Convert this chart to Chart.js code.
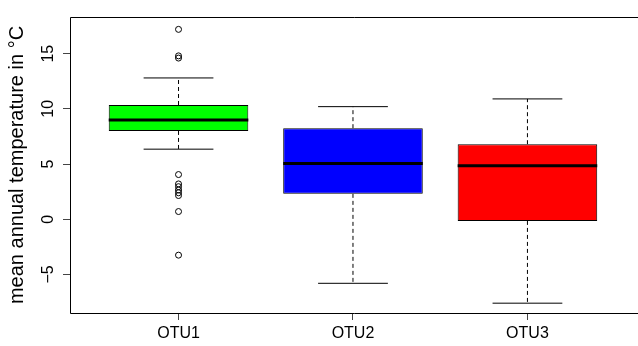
<!DOCTYPE html>
<html>
<head>
<meta charset="utf-8">
<script src="https://cdn.jsdelivr.net/npm/chart.js@4.4.1/dist/chart.umd.min.js"></script>
<style>
  html, body { margin: 0; padding: 0; background: #fff; overflow: hidden; }
  #wrap { width: 638px; height: 346px; }
</style>
</head>
<body>
<div id="wrap"><canvas id="grafico" width="638" height="346"></canvas></div>
<script>
// dados
const categorias = ["OTU1", "OTU2", "OTU3"];
const q1 = [8.0, 2.3, -0.15];
const medianas = [9.0, 5.05, 4.85];
const q3 = [10.35, 8.25, 6.8];
const bigodeMin = [6.35, -5.8, -7.6];
const bigodeMax = [12.8, 10.2, 10.9];
const outliersOTU1 = [17.2, 14.8, 14.6, 4.05, 3.2, 2.95, 2.65, 2.4, 2.15, 0.7, -3.25];
const coresCaixa = ["#00ff00", "#0000ff", "#ff0000"];
const yTicks = [-5, 0, 5, 10, 15];

const FONTE = "'Liberation Sans', Arial, Helvetica, sans-serif";

// segmentos (null separa as linhas)
function segmentos(lista) {
  const pts = [];
  lista.forEach(s => {
    pts.push({ x: s[0], y: s[1] }, { x: s[2], y: s[3] }, { x: s[2], y: null });
  });
  return pts;
}

const linhasBigode = segmentos(categorias.flatMap((c, i) => [
  [i + 1, q3[i], i + 1, bigodeMax[i]],
  [i + 1, q1[i], i + 1, bigodeMin[i]]
]));
const linhasCap = segmentos(categorias.flatMap((c, i) => [
  [i + 0.8, bigodeMax[i], i + 1.2, bigodeMax[i]],
  [i + 0.8, bigodeMin[i], i + 1.2, bigodeMin[i]]
]));
const linhasMediana = segmentos(categorias.map((c, i) => [i + 0.6, medianas[i], i + 1.4, medianas[i]]));

// moldura (o lado direito fica fora da imagem) + rótulos do eixo y girados
const pluginMoldura = {
  id: "moldura",
  afterDraw(chart) {
    const { ctx, chartArea: a, scales } = chart;
    const l = Math.round(a.left) + 0.5, t = Math.round(a.top) + 0.5, b = Math.round(a.bottom) + 0.5;
    ctx.save();
    ctx.strokeStyle = "#000";
    ctx.lineWidth = 1;
    ctx.beginPath();
    ctx.moveTo(chart.width, t);
    ctx.lineTo(l, t);
    ctx.lineTo(l, b);
    ctx.lineTo(chart.width, b);
    ctx.stroke();

    ctx.fillStyle = "#000";
    ctx.font = "16px " + FONTE;
    ctx.textAlign = "center";
    ctx.textBaseline = "middle";
    yTicks.forEach(v => {
      const py = scales.y.getPixelForValue(v);
      ctx.save();
      ctx.translate(49, py);
      ctx.rotate(-Math.PI / 2);
      ctx.fillText(v < 0 ? "\u2212" + Math.abs(v) : String(v), 0, 0);
      ctx.restore();
    });
    ctx.restore();
  }
};

new Chart(document.getElementById("grafico"), {
  type: "bar",
  data: {
    datasets: [
      {
        type: "line",
        data: linhasMediana,
        borderColor: "#000",
        borderWidth: 3,
        pointRadius: 0,
        spanGaps: false,
        order: 0
      },
      {
        type: "scatter",
        data: outliersOTU1.map(v => ({ x: 1, y: v })),
        pointRadius: 3,
        borderColor: "#000",
        backgroundColor: "rgba(0,0,0,0)",
        borderWidth: 1,
        order: 1
      },
      {
        type: "line",
        data: linhasCap,
        borderColor: "#000",
        borderWidth: 1,
        pointRadius: 0,
        spanGaps: false,
        order: 3
      },
      {
        type: "line",
        data: linhasBigode,
        borderColor: "#000",
        borderWidth: 1,
        borderDash: [4, 3],
        pointRadius: 0,
        spanGaps: false,
        order: 4
      },
      {
        type: "bar",
        data: categorias.map((c, i) => ({ x: i + 1, y: [q1[i], q3[i]] })),
        backgroundColor: coresCaixa,
        borderColor: "#000",
        borderWidth: 1,
        borderSkipped: false,
        barPercentage: 1,
        categoryPercentage: 0.8,
        order: 2
      }
    ]
  },
  options: {
    responsive: false,
    animation: false,
    layout: { padding: { top: 17, right: 0, left: 0, bottom: 0 } },
    plugins: { legend: { display: false }, tooltip: { enabled: false } },
    scales: {
      x: {
        type: "linear",
        min: 0.378,
        max: 3.605,
        offset: false,
        afterFit: s => { s.height = 33; },
        afterBuildTicks: s => { s.ticks = categorias.map((c, i) => ({ value: i + 1 })); },
        grid: { offset: false, drawOnChartArea: false, drawTicks: true, tickLength: 7, tickColor: "#444" },
        border: { display: false },
        ticks: {
          callback: v => categorias[v - 1] || "",
          color: "#000",
          font: { family: FONTE, size: 16 },
          padding: 4,
          maxRotation: 0
        }
      },
      y: {
        type: "linear",
        min: -8.49,
        max: 18.32,
        afterFit: s => { s.width = 70; },
        afterBuildTicks: s => { s.ticks = yTicks.map(v => ({ value: v })); },
        grid: { drawOnChartArea: false, drawTicks: true, tickLength: 7, tickColor: "#444" },
        border: { display: false },
        ticks: { display: false },
        title: {
          display: true,
          text: "mean annual temperature in °C",
          color: "#000",
          font: { family: FONTE, size: 20 },
          padding: { top: 5, bottom: 0 }
        }
      }
    }
  },
  plugins: [pluginMoldura]
});
</script>
</body>
</html>
